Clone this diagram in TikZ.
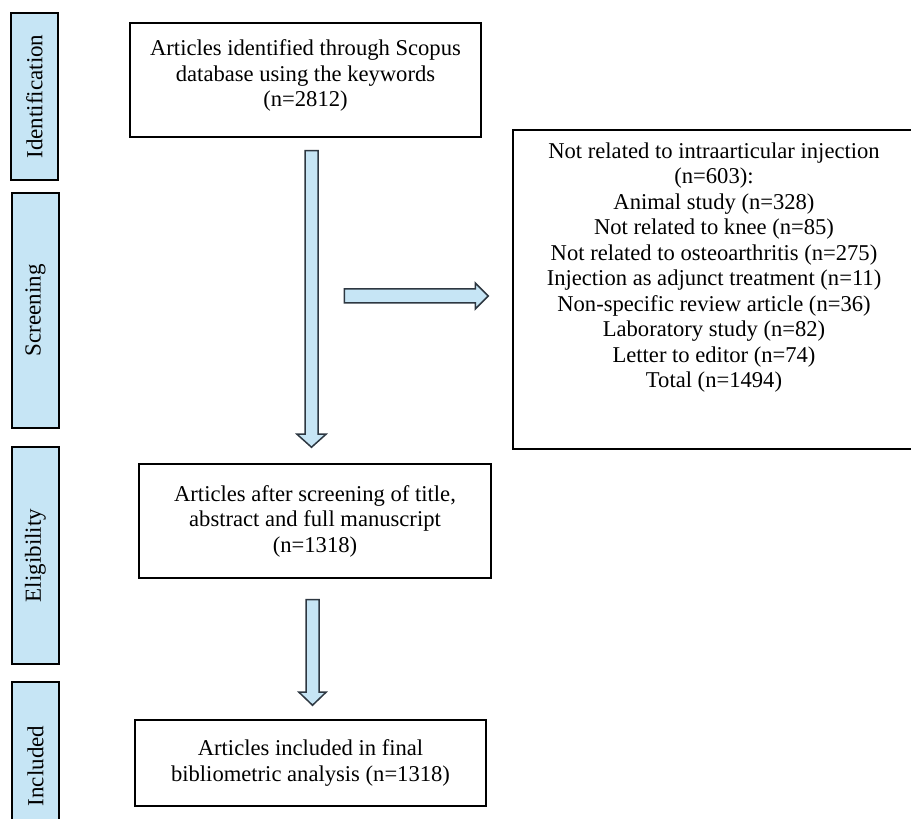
\documentclass[tikz,border=0pt]{standalone}
\usepackage{fontspec}
\setmainfont{Liberation Serif}
\usetikzlibrary{calc}

\begin{document}
\begin{tikzpicture}[x=1pt,y=1pt,font=\fontsize{22.6}{25.5}\selectfont]

% colors
\definecolor{cStage}{RGB}{198,229,245}
\definecolor{cEdge}{RGB}{45,55,65}

\tikzset{
  stage/.style={draw=black,line width=1.5pt,fill=cStage,rotate=90,
    minimum height=47,inner sep=0pt,font=\fontsize{23}{26}\selectfont},
  box/.style={draw=black,line width=1.5pt,align=center,inner sep=0pt},
  blockarrow/.style={draw=cEdge,line width=1.5pt,fill=cStage,line join=miter}
}

\useasboundingbox (0,0) rectangle (911,819);

% stage labels
\node[stage,minimum width=167] (sIdent) at (34.5,722.5) {Identification};
\node[stage,minimum width=235] (sScreen) at (35.5,508.5) {Screening};
\node[stage,minimum width=217] (sElig) at (35.5,263.5) {Eligibility};
\node[stage,minimum width=168] (sIncl) at (35.5,53) {Included};

% main boxes
\node[box,minimum width=351,minimum height=114] (ident) at (305.5,739)
  {Articles identified through Scopus\\database using the keywords\\(n=2812)\rule[-13pt]{0pt}{1pt}};
\node[box,minimum width=352,minimum height=114] (elig) at (315,298)
  {Articles after screening of title,\\abstract and full manuscript\\(n=1318)};
\node[box,minimum width=351,minimum height=86] (incl) at (310.5,56)
  {Articles included in final\\bibliometric analysis (n=1318)};

% excluded box
\node[box,minimum width=402,minimum height=319] (excl) at (714,529.5) {};
\node[anchor=north,align=center,inner sep=0pt] (exclText) at ($(excl.north)+(0,-13)$)
  {Not related to intraarticular injection\\(n=603):\\Animal study (n=328)\\
   Not related to knee (n=85)\\Not related to osteoarthritis (n=275)\\
   Injection as adjunct treatment (n=11)\\Non-specific review article (n=36)\\
   Laboratory study (n=82)\\Letter to editor (n=74)\\Total (n=1494)};

% arrow ends
\coordinate (a1s) at ($(ident.south)+(6,-13)$);
\coordinate (a1e) at ($(elig.north)+(-3.5,16)$);
\coordinate (a3s) at ($(elig.south)+(-2.5,-21)$);
\coordinate (a3e) at ($(incl.north)+(2,14)$);
\coordinate (a2s) at ($(excl.west)+(-168,-6.5)$);
\coordinate (a2e) at ($(excl.west)+(-24,-6.5)$);

% down arrows
\foreach \s/\e/\h in {a1s/a1e/14.5,a3s/a3e/13.5}{
  \draw[blockarrow] let \p1=(\s), \p2=(\e) in
    (\x1-6.5pt,\y1) -- (\x1-6.5pt,\y2+13pt) -- (\x1-\h pt,\y2+13pt) -- (\x2,\y2)
    -- (\x1+\h pt,\y2+13pt) -- (\x1+6.5pt,\y2+13pt) -- (\x1+6.5pt,\y1) -- cycle;
}

% arrow to excluded
\draw[blockarrow] let \p1=(a2s), \p2=(a2e) in
  (\x1,\y1+7pt) -- (\x2-13pt,\y1+7pt) -- (\x2-13pt,\y1+13pt) -- (\x2,\y2)
  -- (\x2-13pt,\y1-13pt) -- (\x2-13pt,\y1-7pt) -- (\x1,\y1-7pt) -- cycle;

\end{tikzpicture}
\end{document}
